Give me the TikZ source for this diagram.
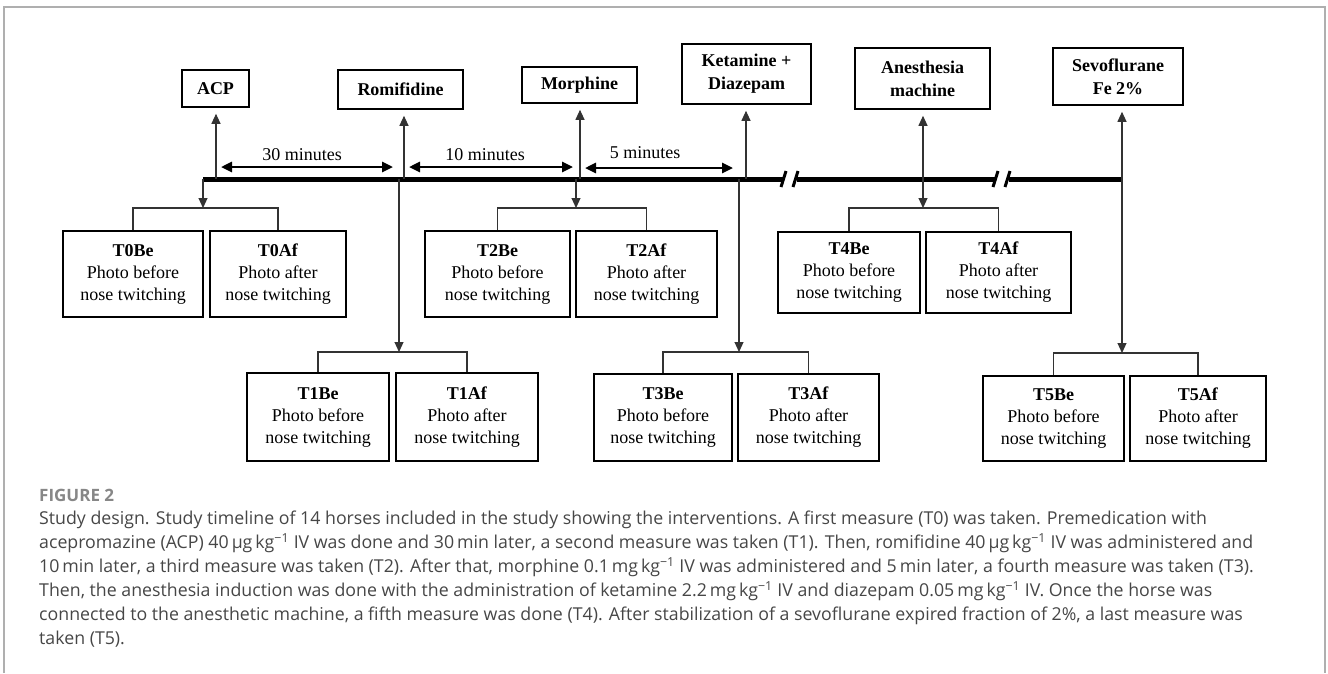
\documentclass[tikz,border=0pt]{standalone}
\usepackage{fontspec}
\setmainfont{Liberation Serif}
\newfontfamily\capfont{Open Sans}
\usetikzlibrary{arrows.meta, positioning, calc}
\definecolor{framegray}{RGB}{175,175,175}
\definecolor{capgray}{RGB}{70,70,70}
\definecolor{figgray}{RGB}{135,135,135}

\begin{document}
\begin{tikzpicture}[x=1pt, y=-1pt,
  drug/.style={draw, line width=1.6pt, font=\fontsize{18}{23}\selectfont\bfseries, align=center, inner sep=0pt},
  photo/.style={draw, line width=1.6pt, font=\fontsize{18}{22}\selectfont, align=center, inner sep=0pt},
  link/.style={line width=1.1pt, draw=black!80},
  tip/.style={-{Triangle[length=10pt, width=9pt]}},
  span/.style={line width=2.6pt, {Triangle[length=11pt, width=10pt]}-{Triangle[length=11pt, width=10pt]}},
  lbl/.style={font=\fontsize{18}{22}\selectfont, inner sep=0pt}]
  \useasboundingbox (0,0) rectangle (1328,673);
  % frame
  \draw[framegray, line width=1.5pt] (4,673) -- (4,7) -- (1325,7) -- (1325,673);

  % Drugs
  \node[drug, minimum width=67pt, minimum height=37pt] (acp) at (215.5,88.5) {ACP};
  \node[drug, minimum width=125pt, minimum height=39pt] (romi) at (400.5,89.5) {Romifidine};
  \node[drug, minimum width=115pt, minimum height=36pt] (morph) at (579.5,85) {Morphine};
  \node[drug, minimum width=129pt, minimum height=60pt] (keta) at (746.5,74) {Ketamine +\\Diazepam};
  \node[drug, minimum width=135pt, minimum height=61pt] (anes) at (922.5,78.5) {Anesthesia\\machine};
  \node[drug, minimum width=130pt, minimum height=57pt] (sevo) at (1118,76.5) {Sevoflurane\\Fe 2\%};

  % Timeline
  \coordinate (tstart) at (203,179);
  \coordinate (tend) at (1122,179);
  \draw[line width=5pt] (tstart) -- (784,179) (797,179) -- (996,179) (1009,179) -- (tend);
  \foreach \bx in {784, 996} {
    \draw[line width=3pt] (\bx-3,187) -- (\bx+2,171);
    \draw[line width=3pt] (\bx+9,187) -- (\bx+14,171);
  }

  % Photo boxes
  \foreach \i/\xb/\wb/\xa/\wa/\y/\h in {0/133/140/278/136/274/86, 1/318/142/467/142/417/88,
      2/497.5/145/646.5/141/274/86, 3/663/138/808.5/141/417.5/87,
      4/849/142/998.5/145/272.5/81, 5/1053.5/141/1198/136/418.5/85} {
    \node[photo, minimum width=\wb pt, minimum height=\h pt] (be\i) at (\xb,\y) {\textbf{T\i{}Be}\\Photo before\\nose twitching};
    \node[photo, minimum width=\wa pt, minimum height=\h pt] (af\i) at (\xa,\y) {\textbf{T\i{}Af}\\Photo after\\nose twitching};
  }

  % Up arrows to the drugs
  \foreach \n/\x in {acp/216, romi/404, morph/580, keta/746, anes/923, sevo/1122} {
    \coordinate (up-\n) at (\x,179);
    \draw[link, tip, shorten >=6pt] (up-\n) -- (up-\n |- \n.south);
  }

  % Down arrows and brackets
  \foreach \i/\x/\y in {0/203/208, 1/399/352, 2/576/208, 3/739/352, 4/923/208, 5/1122/353} {
    \coordinate (dn\i) at (\x,179);
    \coordinate (br\i) at (\x,\y);
    \draw[link, tip] (dn\i) -- (br\i);
    \draw[link, line width=1.4pt] (be\i.north) |- (br\i) -| (af\i.north);
  }

  % Intervals
  \coordinate (s30a) at (221,167);
  \coordinate (s30b) at (393,167);
  \coordinate (s10a) at (409,167);
  \coordinate (s10b) at (573,167);
  \coordinate (s5a) at (585,168);
  \coordinate (s5b) at (733,168);
  \draw[span] (s30a) -- (s30b);
  \draw[span] (s10a) -- (s10b);
  \draw[span] (s5a) -- (s5b);
  \node[lbl] (t30) at (302,155) {30 minutes};
  \node[lbl] (t10) at (485,155) {10 minutes};
  \node[lbl] (t5) at (645,153) {5 minutes};

  % Caption
  \node[anchor=base west, inner sep=0pt, text=figgray, font=\capfont\bfseries\fontsize{17}{24}\selectfont] (fig) at (39,501) {FIGURE 2};
  \node[anchor=north west, inner sep=0pt, align=left, text=capgray, font=\capfont\fontsize{17.75}{24}\selectfont] (cap) at (39,511)
  {Study design. Study timeline of 14 horses included in the study showing the interventions. A first measure (T0) was taken. Premedication with\\
   acepromazine (ACP) 40\,µg\,kg\textsuperscript{−1} IV was done and 30\,min later, a second measure was taken (T1). Then, romifidine 40\,µg\,kg\textsuperscript{−1} IV was administered and\\
   10\,min later, a third measure was taken (T2). After that, morphine 0.1\,mg\,kg\textsuperscript{−1} IV was administered and 5\,min later, a fourth measure was taken (T3).\\
   Then, the anesthesia induction was done with the administration of ketamine 2.2\,mg\,kg\textsuperscript{−1} IV and diazepam 0.05\,mg\,kg\textsuperscript{−1} IV. Once the horse was\\
   connected to the anesthetic machine, a fifth measure was done (T4). After stabilization of a sevoflurane expired fraction of 2\%, a last measure was\\
   taken (T5).};
\end{tikzpicture}
\end{document}
